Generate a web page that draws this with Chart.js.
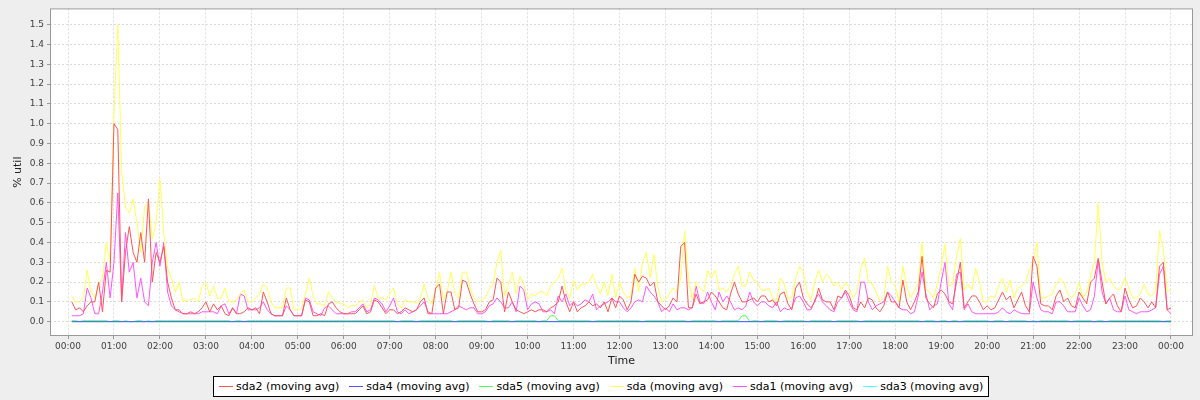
<!DOCTYPE html>
<html>
<head>
<meta charset="utf-8">
<script src="https://cdn.jsdelivr.net/npm/chart.js@4.4.0/dist/chart.umd.min.js"></script>
<style>
  html, body { margin: 0; padding: 0; background: #eeeeee; }
  #wrap { position: relative; width: 1200px; height: 400px; background: #eeeeee; }
  #chart { position: absolute; left: 0; top: 0; }
  #legend {
    position: absolute; top: 376px; left: 213px; height: 19px;
    border: 1px solid #000; background: #fff;
    display: flex; align-items: center; padding: 0 5px 0 5px;
    font-family: "DejaVu Sans", sans-serif; font-size: 11px; color: #000; white-space: nowrap;
  }
  #legend .item { display: flex; align-items: center; margin-right: 10px; }
  #legend .item:last-child { margin-right: 0; }
  #legend .swatch { width: 14px; height: 1px; margin-right: 3px; }
</style>
</head>
<body>
<div id="wrap">
  <canvas id="chart" width="1200" height="370"></canvas>
  <div id="legend"></div>
</div>
<script>
// x axis: hours since midnight, one sample every 5 minutes (first slot 00:00 is empty)
var stepMinutes = 5;
var tickLabels = ['00:00','01:00','02:00','03:00','04:00','05:00','06:00','07:00','08:00','09:00','10:00','11:00',
                  '12:00','13:00','14:00','15:00','16:00','17:00','18:00','19:00','20:00','21:00','22:00','23:00','00:00'];

// sda2 (moving avg) - one row per hour, 12 samples each
var sda2 = [
  [null,0.1,0.06,0.07,0.05,0.08,0.1,0.1,0.2,0.05,0.26,0.25],
  [1.0,0.97,0.1,0.35,0.48,0.35,0.3,0.45,0.3,0.62,0.2,0.35],
  [0.3,0.38,0.2,0.12,0.06,0.06,0.04,0.04,0.05,0.04,0.05,0.07],
  [0.1,0.05,0.09,0.06,0.08,0.04,0.03,0.07,0.04,0.04,0.05,0.07],
  [0.06,0.07,0.04,0.15,0.1,0.04,0.03,0.03,0.03,0.12,0.06,0.03],
  [0.03,0.03,0.11,0.1,0.03,0.03,0.04,0.03,0.09,0.1,0.07,0.05],
  [0.04,0.04,0.04,0.04,0.06,0.08,0.04,0.05,0.11,0.1,0.07,0.04],
  [0.06,0.06,0.04,0.05,0.07,0.06,0.05,0.06,0.1,0.12,0.04,0.04],
  [0.17,0.19,0.04,0.15,0.15,0.06,0.07,0.21,0.2,0.14,0.09,0.05],
  [0.05,0.06,0.1,0.11,0.22,0.2,0.05,0.15,0.1,0.06,0.05,0.04],
  [0.05,0.06,0.05,0.06,0.06,0.05,0.07,0.08,0.1,0.18,0.1,0.05],
  [0.1,0.05,0.07,0.08,0.1,0.08,0.09,0.07,0.1,0.05,0.12,0.07],
  [0.13,0.11,0.06,0.1,0.24,0.2,0.23,0.22,0.18,0.2,0.1,0.08],
  [0.06,0.08,0.12,0.1,0.38,0.4,0.07,0.07,0.14,0.09,0.1,0.11],
  [0.15,0.13,0.1,0.07,0.06,0.14,0.2,0.14,0.1,0.1,0.11,0.12],
  [0.1,0.13,0.13,0.1,0.11,0.08,0.14,0.15,0.09,0.06,0.17,0.2],
  [0.12,0.09,0.07,0.1,0.17,0.11,0.1,0.1,0.06,0.13,0.12,0.16],
  [0.13,0.07,0.06,0.1,0.07,0.12,0.11,0.07,0.05,0.08,0.15,0.1],
  [0.1,0.07,0.21,0.1,0.06,0.1,0.15,0.33,0.12,0.09,0.07,0.14],
  [0.16,0.14,0.1,0.09,0.2,0.3,0.07,0.1,0.13,0.13,0.1,0.06],
  [0.08,0.06,0.07,0.11,0.15,0.11,0.13,0.07,0.11,0.15,0.08,0.05],
  [0.33,0.28,0.09,0.08,0.08,0.06,0.13,0.16,0.1,0.12,0.08,0.07],
  [0.15,0.12,0.09,0.2,0.22,0.32,0.2,0.09,0.12,0.14,0.08,0.05],
  [0.17,0.11,0.07,0.08,0.12,0.1,0.07,0.1,0.07,0.28,0.3,0.06],
  [0.07]
];

// sda (moving avg)
var sda = [
  [null,0.13,0.1,0.1,0.12,0.26,0.15,0.12,0.19,0.22,0.4,0.3],
  [1.06,1.5,0.76,0.58,0.55,0.62,0.5,0.35,0.58,0.6,0.42,0.5],
  [0.72,0.45,0.27,0.22,0.15,0.2,0.1,0.11,0.11,0.12,0.1,0.18],
  [0.2,0.13,0.18,0.12,0.12,0.17,0.1,0.1,0.11,0.14,0.16,0.1],
  [0.1,0.12,0.14,0.19,0.17,0.1,0.07,0.07,0.07,0.17,0.17,0.06],
  [0.06,0.07,0.14,0.22,0.13,0.09,0.09,0.08,0.15,0.12,0.1,0.09],
  [0.09,0.07,0.08,0.08,0.1,0.11,0.07,0.09,0.18,0.12,0.12,0.11],
  [0.14,0.17,0.09,0.07,0.11,0.1,0.1,0.09,0.12,0.19,0.12,0.09],
  [0.16,0.25,0.11,0.15,0.25,0.14,0.12,0.25,0.25,0.17,0.12,0.1],
  [0.11,0.12,0.17,0.19,0.3,0.36,0.13,0.19,0.25,0.14,0.23,0.19],
  [0.11,0.14,0.13,0.15,0.15,0.13,0.18,0.2,0.22,0.27,0.16,0.12],
  [0.21,0.16,0.19,0.19,0.2,0.24,0.18,0.14,0.2,0.13,0.24,0.12],
  [0.2,0.15,0.12,0.13,0.27,0.15,0.3,0.35,0.22,0.34,0.18,0.1],
  [0.11,0.14,0.17,0.15,0.22,0.46,0.22,0.11,0.2,0.17,0.15,0.26],
  [0.22,0.26,0.16,0.17,0.15,0.18,0.24,0.28,0.18,0.18,0.25,0.21],
  [0.2,0.16,0.16,0.17,0.12,0.1,0.22,0.19,0.12,0.12,0.22,0.28],
  [0.25,0.15,0.11,0.2,0.26,0.2,0.24,0.22,0.18,0.2,0.16,0.2],
  [0.17,0.12,0.15,0.27,0.32,0.2,0.19,0.15,0.1,0.12,0.28,0.2],
  [0.18,0.1,0.28,0.18,0.12,0.16,0.19,0.4,0.16,0.15,0.12,0.19],
  [0.28,0.39,0.18,0.19,0.33,0.42,0.16,0.19,0.16,0.27,0.2,0.1],
  [0.1,0.13,0.12,0.18,0.22,0.15,0.21,0.12,0.17,0.18,0.2,0.26],
  [0.3,0.4,0.12,0.12,0.13,0.14,0.19,0.22,0.2,0.14,0.12,0.14],
  [0.2,0.12,0.15,0.23,0.3,0.6,0.3,0.2,0.22,0.18,0.16,0.17],
  [0.22,0.17,0.12,0.12,0.14,0.19,0.14,0.13,0.16,0.46,0.37,0.15],
  [0.16]
];

// sda1 (moving avg)
var sda1 = [
  [null,0.03,0.03,0.03,0.04,0.17,0.12,0.04,0.04,0.15,0.3,0.12],
  [0.3,0.65,0.1,0.45,0.25,0.3,0.12,0.22,0.1,0.08,0.3,0.4],
  [0.28,0.4,0.15,0.08,0.06,0.05,0.04,0.04,0.04,0.04,0.04,0.05],
  [0.05,0.05,0.05,0.04,0.08,0.09,0.04,0.07,0.04,0.14,0.13,0.06],
  [0.06,0.06,0.07,0.1,0.06,0.04,0.03,0.03,0.03,0.08,0.06,0.03],
  [0.03,0.03,0.12,0.11,0.05,0.04,0.03,0.07,0.08,0.06,0.04,0.04],
  [0.04,0.04,0.05,0.05,0.07,0.09,0.05,0.06,0.12,0.11,0.09,0.05],
  [0.08,0.12,0.05,0.04,0.06,0.04,0.05,0.06,0.08,0.1,0.05,0.04],
  [0.04,0.04,0.04,0.04,0.05,0.06,0.08,0.07,0.06,0.07,0.07,0.04],
  [0.04,0.05,0.08,0.09,0.12,0.1,0.07,0.07,0.1,0.05,0.18,0.16],
  [0.06,0.09,0.1,0.09,0.05,0.05,0.06,0.04,0.13,0.1,0.14,0.08],
  [0.1,0.08,0.09,0.11,0.1,0.14,0.06,0.08,0.09,0.1,0.12,0.1],
  [0.1,0.07,0.05,0.07,0.1,0.11,0.1,0.18,0.15,0.13,0.1,0.05],
  [0.07,0.05,0.09,0.06,0.07,0.07,0.06,0.07,0.18,0.1,0.09,0.15],
  [0.1,0.06,0.15,0.1,0.13,0.1,0.06,0.07,0.06,0.08,0.15,0.1],
  [0.08,0.1,0.1,0.08,0.07,0.1,0.05,0.07,0.06,0.07,0.12,0.13],
  [0.1,0.06,0.06,0.11,0.14,0.1,0.08,0.06,0.05,0.1,0.12,0.15],
  [0.1,0.06,0.05,0.2,0.2,0.1,0.06,0.08,0.09,0.1,0.15,0.13],
  [0.1,0.07,0.06,0.06,0.04,0.05,0.13,0.25,0.14,0.06,0.08,0.09],
  [0.2,0.3,0.09,0.06,0.24,0.25,0.06,0.09,0.05,0.04,0.04,0.04],
  [0.04,0.04,0.04,0.05,0.07,0.05,0.04,0.06,0.05,0.04,0.04,0.04],
  [0.2,0.12,0.06,0.05,0.05,0.04,0.1,0.1,0.08,0.05,0.05,0.05],
  [0.12,0.08,0.05,0.06,0.13,0.31,0.15,0.09,0.12,0.06,0.05,0.05],
  [0.13,0.06,0.05,0.04,0.05,0.05,0.05,0.06,0.07,0.24,0.28,0.06],
  [0.04]
];

// sda5 (moving avg) - sits just above zero, drops to zero now and then
var sda5 = [
  [null,.005,.005,0,.005,.005,.005,.005,.005,.005,.005,0],
  [.005,.005,0,.005,0,0,.005,.005,0,.005,0,.005],
  [.005,.005,.005,.005,.005,.005,.005,.005,.005,.005,.005,.005],
  [.005,.005,.005,.005,.005,.005,.005,0,.005,.005,0,.005],
  [.005,.005,.005,.005,.005,.005,.005,.005,.005,.005,.005,.005],
  [.005,.005,.005,.005,.005,.005,.005,.005,.005,.005,.005,.005],
  [.005,.005,.005,.005,.005,.005,.005,.005,.005,.005,.005,.005],
  [.005,.005,0,.005,.005,.005,.005,0,.005,.005,.005,.005],
  [.005,.005,.005,.005,.005,0,.005,.005,.005,.005,.005,.005],
  [.005,.005,0,.005,.005,.005,.005,.005,0,.005,.005,.005],
  [.005,.005,.005,0,.005,.005,.03,.03,.005,.005,.005,.005],
  [.005,.005,.005,.005,.005,0,.005,.005,.005,.005,.005,.005],
  [.005,.005,.005,.005,.005,.005,0,.005,.005,.005,.005,.005],
  [.005,.005,.005,.005,.005,.005,0,.005,.005,.005,.005,.005],
  [.005,.005,0,.005,.005,.005,.005,.005,.03,.03,0,.005],
  [.005,0,.005,.005,.005,.005,0,.005,.005,.005,.005,.005],
  [.005,0,.005,.005,.005,.005,.005,.005,0,.005,.005,.005],
  [.005,.005,.005,0,.005,.005,.005,.005,.005,.005,.005,.005],
  [.005,.005,.005,.005,.005,.005,.005,0,.005,.005,.005,0],
  [.005,.005,0,.005,.005,0,.005,.005,.005,.005,.005,.005],
  [.005,0,.005,.005,.005,0,.005,.005,.005,.005,.005,0],
  [.005,0,.005,.005,.005,.005,.005,.005,.005,.005,0,.005],
  [.005,.005,.005,.005,0,.005,.005,0,.005,.005,.005,.005],
  [.005,.005,.005,.005,.005,.005,.005,.005,.005,.005,0,.005],
  [.005]
];

// sda4 and sda3 read flat at zero from first to last sample
var flatTimes = [5 / 60, 24];
var sda4 = [0, 0];
var sda3 = [0, 0];

function toPoints(rows) {
  var vals = [].concat.apply([], rows);
  return vals.map(function(v, i) { return { x: i * stepMinutes / 60, y: v }; });
}
function flatPoints(vals) {
  return vals.map(function(v, i) { return { x: flatTimes[i], y: v }; });
}

var series = [
  { label: 'sda2 (moving avg)', color: '#ff5555', data: toPoints(sda2) },
  { label: 'sda4 (moving avg)', color: '#5555ff', data: flatPoints(sda4) },
  { label: 'sda5 (moving avg)', color: '#55ff55', data: toPoints(sda5) },
  { label: 'sda (moving avg)',  color: '#ffff55', data: toPoints(sda) },
  { label: 'sda1 (moving avg)', color: '#ff55ff', data: toPoints(sda1) },
  { label: 'sda3 (moving avg)', color: '#55ffff', data: flatPoints(sda3) }
];

var datasets = series.map(function(s) {
  return {
    label: s.label, data: s.data,
    borderColor: s.color, backgroundColor: s.color,
    borderWidth: 1, pointRadius: 0, tension: 0, fill: false, spanGaps: false
  };
});

var plotFrame = {
  id: 'plotFrame',
  beforeDraw: function(chart) {
    var a = chart.chartArea, c = chart.ctx;
    c.save();
    c.fillStyle = '#ffffff';
    c.fillRect(a.left, a.top, a.right - a.left, a.bottom - a.top);
    c.restore();
  },
  afterDraw: function(chart) {
    var a = chart.chartArea, c = chart.ctx;
    c.save();
    c.strokeStyle = '#999999';
    c.lineWidth = 1;
    c.strokeRect(a.left + 0.5, a.top + 0.5, a.right - a.left - 1, a.bottom - a.top - 1);
    c.restore();
  }
};

var tickFont = { family: 'DejaVu Sans', size: 9 };
var titleFont = { family: 'DejaVu Sans', size: 11 };

var ctx = document.getElementById('chart');
var chart = new Chart(ctx, {
  type: 'line',
  data: { datasets: datasets },
  plugins: [plotFrame],
  options: {
    responsive: false,
    animation: false,
    normalized: true,
    layout: { padding: { top: 4, right: 7, left: 0, bottom: 0 } },
    plugins: { legend: { display: false }, tooltip: { enabled: false } },
    scales: {
      x: {
        type: 'linear', min: -0.392, max: 24.479,
        afterFit: function(s) { s.height = 34; },
        ticks: {
          stepSize: 1, includeBounds: false, autoSkip: false, maxRotation: 0,
          font: tickFont, color: '#404040', padding: 2,
          callback: function(v) { return tickLabels[v]; }
        },
        grid: { color: '#dcdcdc', tickLength: 3, tickColor: '#999999' },
        border: { display: false, dash: [2, 2] },
        title: { display: true, text: 'Time', font: titleFont, color: '#222222', padding: { top: 0, bottom: 2 } }
      },
      y: {
        min: -0.0723, max: 1.5822,
        afterFit: function(s) { s.width = 50; },
        ticks: {
          stepSize: 0.1, includeBounds: false,
          font: tickFont, color: '#404040', padding: 3,
          callback: function(v) { return v.toFixed(1); }
        },
        grid: { color: '#dcdcdc', tickLength: 3, tickColor: '#999999' },
        border: { display: false, dash: [2, 2] },
        title: { display: true, text: '% util', font: titleFont, color: '#222222', padding: { top: 12, bottom: 0 } }
      }
    }
  }
});

var legend = document.getElementById('legend');
series.forEach(function(s) {
  var item = document.createElement('span');
  item.className = 'item';
  var sw = document.createElement('span');
  sw.className = 'swatch';
  sw.style.background = s.color;
  var txt = document.createElement('span');
  txt.textContent = s.label;
  item.appendChild(sw);
  item.appendChild(txt);
  legend.appendChild(item);
});
</script>
</body>
</html>
